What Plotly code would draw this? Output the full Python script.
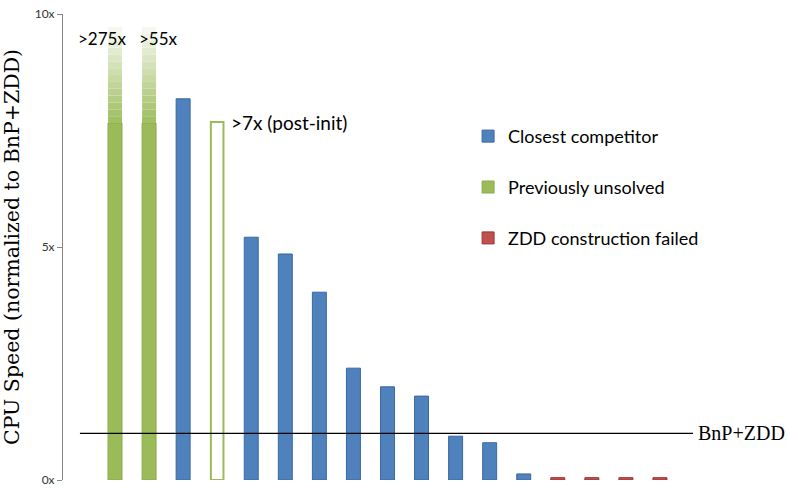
import plotly.graph_objects as go

# ---- data ----
categories = list(range(17))
blue_x = [2, 4, 5, 6, 7, 8, 9, 10, 11, 12]
blue_vals = [8.18, 5.21, 4.85, 4.03, 2.40, 2.00, 1.80, 0.94, 0.80, 0.13]
green_x = [0, 1]
green_solid = [7.66, 7.66]
green_top = [9.72, 9.72]
outline_x = [3]
outline_vals = [7.68]
red_x = [13, 14, 15, 16]
red_vals = [0.05, 0.05, 0.05, 0.05]
baseline_value = 1.0
y_ticks = [0, 5, 10]
y_ticklabels = ["0x", "5x", "10x"]

BLUE = "#4F81BD"
GREEN = "#9BBB59"
RED = "#C0504D"
W = 0.41

fig = go.Figure()

fig.add_trace(go.Bar(x=blue_x, y=blue_vals, width=W, marker=dict(color=BLUE, line=dict(width=1, color="#3A68A0")),
                     name="Closest competitor", legendgroup="b"))
fig.add_trace(go.Bar(x=green_x, y=green_solid, width=W, marker=dict(color=GREEN, line=dict(width=1, color="#8AAA4C")),
                     name="Previously unsolved", legendgroup="g"))
fig.add_trace(go.Bar(x=red_x, y=red_vals, width=W, marker=dict(color=RED, line=dict(width=1, color="#9C3532")),
                     name="ZDD construction failed", legendgroup="r"))

# gradient fade on top of the green bars (style only)
n_bands = 14
for k in range(n_bands):
    t = (k + 1) / (n_bands + 1)
    r0, g0, b0 = 0x9B, 0xBB, 0x59
    c = "rgb(%d,%d,%d)" % (r0 + (255 - r0) * t * 0.97, g0 + (255 - g0) * t * 0.97, b0 + (255 - b0) * t * 0.97)
    bases = [s + (tp - s) * k / n_bands for s, tp in zip(green_solid, green_top)]
    hs = [(tp - s) / n_bands for s, tp in zip(green_solid, green_top)]
    fig.add_trace(go.Bar(x=green_x, y=hs, base=bases, width=W, marker=dict(color=c, line=dict(width=0)),
                         showlegend=False, hoverinfo="skip", legendgroup="g"))

fig.add_trace(go.Bar(x=outline_x, y=outline_vals, width=W - 0.04, marker=dict(color="white", line=dict(width=2, color=GREEN)),
                     showlegend=False, legendgroup="g"))

# baseline
fig.add_shape(type="line", x0=-1.03, x1=16.97, y0=baseline_value, y1=baseline_value,
              line=dict(color="black", width=1.3), layer="above")

lab_font = dict(family="Lato, Open Sans, sans-serif", size=17, color="black")
fig.add_annotation(x=-0.38, y=9.47, text=">275x", showarrow=False, font=lab_font, xanchor="center", yanchor="middle")
fig.add_annotation(x=1.29, y=9.47, text=">55x", showarrow=False, font=lab_font, xanchor="center", yanchor="middle")
fig.add_annotation(x=3.34, y=7.68, text=">7x (post-init)", showarrow=False, font=dict(family="Lato, sans-serif", size=19, color="black"),
                   xanchor="left", yanchor="middle")
fig.add_annotation(x=1.0, xref="paper", xshift=3, y=baseline_value, text="BnP+ZDD", showarrow=False,
                   font=dict(family="Liberation Serif, serif", size=20, color="black"), xanchor="left", yanchor="middle")

fig.update_layout(
    width=788, height=488,
    margin=dict(l=63, r=95, t=14, b=8, autoexpand=False),
    plot_bgcolor="white", paper_bgcolor="white",
    barmode="overlay",
    showlegend=True,
    legend=dict(x=0.643, y=0.777, xanchor="left", yanchor="top", font=dict(family="Lato, sans-serif", size=18, color="black"),
                tracegroupgap=24.5, bgcolor="rgba(0,0,0,0)", traceorder="grouped"),
    xaxis=dict(range=[-1.527, 16.97], visible=False, fixedrange=True),
    yaxis=dict(range=[0, 10], tickvals=y_ticks, ticktext=y_ticklabels, showgrid=False, zeroline=False, automargin=False,
               showline=True, linecolor="#868686", linewidth=1, ticks="outside", ticklen=5, tickcolor="#868686",
               tickfont=dict(family="Lato, sans-serif", size=12, color="#333333"),
               title=dict(text="CPU Speed (normalized to BnP+ZDD)", font=dict(family="DejaVu Serif, serif", size=20.5, color="black"), standoff=20)),
)

fig.write_html("out.html")
